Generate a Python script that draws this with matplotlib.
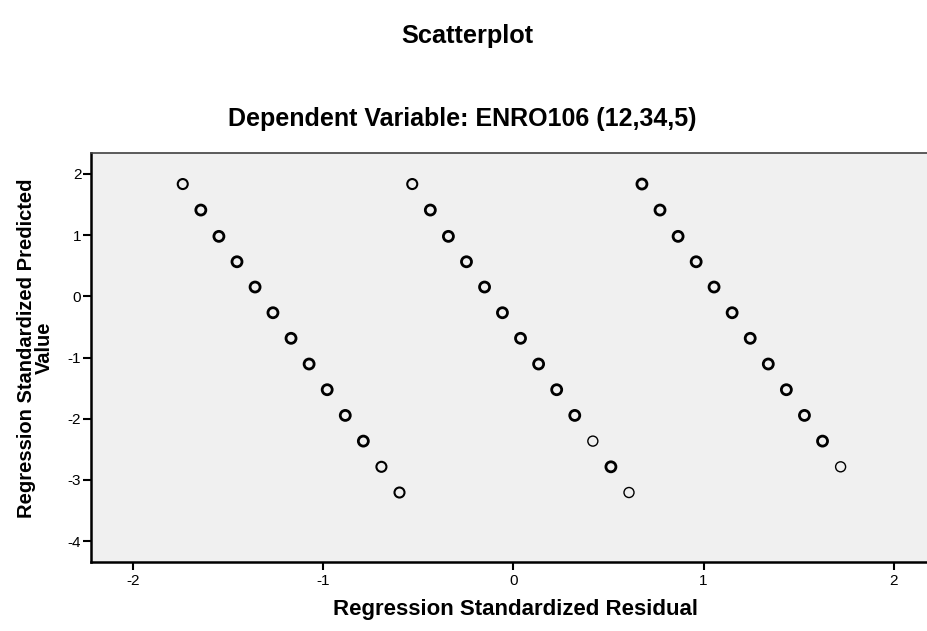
import matplotlib.pyplot as plt

plt.rcParams['font.family'] = ['Liberation Sans', 'DejaVu Sans']
plt.rcParams['axes.unicode_minus'] = False

# standardized residual / standardized predicted value, three diagonal bands
resid_a = [-1.737, -1.642, -1.547, -1.452, -1.357, -1.263, -1.168, -1.073,
           -0.978, -0.883, -0.788, -0.693, -0.598]
resid_b = [-0.531, -0.436, -0.341, -0.246, -0.151, -0.057, 0.038, 0.133,
           0.228, 0.323, 0.418, 0.513, 0.608]
resid_c = [0.676, 0.771, 0.866, 0.961, 1.055, 1.150, 1.245, 1.340,
           1.435, 1.530, 1.625, 1.720]
pred_a = [1.835, 1.410, 0.980, 0.565, 0.152, -0.268, -0.686, -1.106,
          -1.526, -1.946, -2.366, -2.786, -3.206]
pred_b = pred_a
pred_c = pred_a[:12]
# how many cases sit on each point (overlapping cases look heavier)
count_a = [2, 3, 3, 3, 3, 3, 3, 3, 3, 3, 3, 2, 2]
count_b = [2, 3, 3, 3, 3, 3, 3, 3, 3, 3, 1, 3, 1]
count_c = [3, 3, 3, 3, 3, 3, 3, 3, 3, 3, 3, 1]

fig = plt.figure(figsize=(9.27, 6.31), dpi=100)
ax = fig.add_axes([0.0982, 0.1094, 0.9018, 0.6481])
ax.set_facecolor('#f0f0f0')

lw_for = {1: 1.0, 2: 1.5, 3: 2.0}
for xs, ys, cs in [(resid_a, pred_a, count_a),
                   (resid_b, pred_b, count_b),
                   (resid_c, pred_c, count_c)]:
    ax.scatter(xs, ys, s=52, facecolors='none', edgecolors='black',
               linewidths=[lw_for[c] for c in cs], zorder=3)

ax.set_xlim(-2.219, 2.174)
ax.set_ylim(-4.341, 2.342)
ax.set_xticks([-2, -1, 0, 1, 2])
ax.set_yticks([2, 1, 0, -1, -2, -3, -4])
ax.tick_params(direction='out', length=6, width=1.5, labelsize=11,
               color='black')
ax.tick_params(axis='y', pad=1)
ax.tick_params(axis='x', pad=3)

ax.spines['right'].set_visible(False)
ax.spines['top'].set_color('#404040')
ax.spines['top'].set_linewidth(1.2)
ax.spines['left'].set_linewidth(1.8)
ax.spines['bottom'].set_linewidth(1.8)

fig.text(0.5038, 0.9319, 'Scatterplot', ha='center', va='baseline',
         fontsize=18.3, fontweight='bold')
fig.text(0.4985, 0.8003, 'Dependent Variable: ENRO106 (12,34,5)',
         ha='center', va='baseline', fontsize=18, fontweight='bold')
fig.text(0.556, 0.034, 'Regression Standardized Residual', ha='center',
         va='center', fontsize=16, fontweight='bold')
fig.text(0.038, 0.4485, 'Regression Standardized Predicted\nValue',
         ha='center', va='center', rotation=90, fontsize=14.5,
         fontweight='bold', linespacing=0.95)

fig.savefig('out.png', dpi=100)
